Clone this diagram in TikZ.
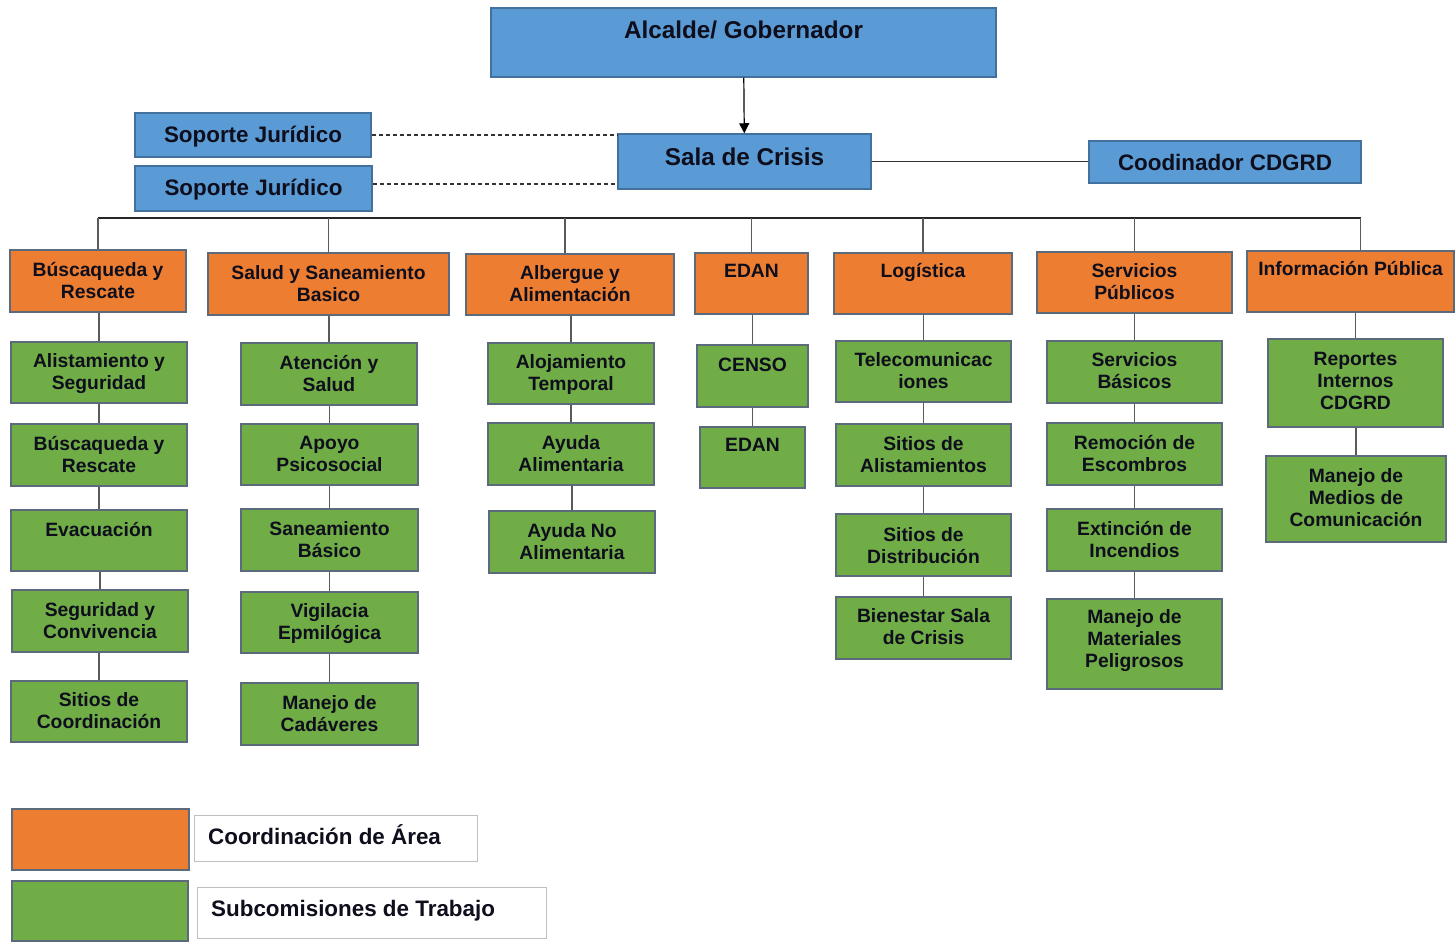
\documentclass[tikz,border=0pt]{standalone}
\usepackage{fontspec}
\setmainfont{Liberation Sans}
\usetikzlibrary{arrows.meta}
\definecolor{bluef}{HTML}{5B9BD5}
\definecolor{blued}{HTML}{41719C}
\definecolor{orangef}{HTML}{ED7D31}
\definecolor{greenf}{HTML}{70AD47}
\definecolor{boxd}{HTML}{5B6B7C}
\definecolor{ink}{HTML}{0E0E1C}
\definecolor{conn}{HTML}{5A5A5A}
\newcommand\ststrut{\rule[-0.205em]{0pt}{1.13em}}
\newcommand\bx[9]{%
  \node[#1,minimum width={#4-#2},minimum height={#5-#3}] (#6) at ({(#2+#4)/2},{(#3+#5)/2}) {};
  \node[txt,#8] (#6t) at ({(#2+#4)/2},#7) {#9};}
\newcommand\chain[2]{\draw[link] (#2.north |- #1.south) -- (#2.north);}
\tikzset{
  bluebox/.style={draw=blued, fill=bluef, line width=1.5pt, inner sep=0pt},
  orangebox/.style={draw=boxd, fill=orangef, line width=1.5pt, inner sep=0pt},
  greenbox/.style={draw=boxd, fill=greenf, line width=1.5pt, inner sep=0pt},
  legbox/.style={draw=black!25, fill=white, line width=1pt, inner sep=0pt},
  txt/.style={text=ink, align=center, inner sep=0pt,
    execute at begin node=\ststrut, execute at end node=\ststrut},
  big/.style={font=\fontsize{24.3}{28}\selectfont\bfseries},
  mid/.style={font=\fontsize{22.4}{26}\selectfont\bfseries},
  sm/.style={font=\fontsize{19.3}{22}\selectfont\bfseries},
  ml/.style={sm, yshift=-2pt},
  leg/.style={font=\fontsize{22.4}{26}\selectfont\bfseries},
  link/.style={draw=conn, line width=1.3pt},
  busline/.style={draw=black!85, line width=1.3pt},
  dashlink/.style={draw=black!80, line width=1.1pt, dash pattern=on 4pt off 3pt},
}
\begin{document}
\begin{tikzpicture}[x=1pt,y=-1pt]
\useasboundingbox[fill=white] (0,0) rectangle (1455,942);
% top level
\bx{bluebox}{491}{8}{996}{77}{alc}{30}{big}{Alcalde/ Gobernador}
\bx{bluebox}{618}{134}{871}{189}{sala}{157}{big}{Sala de Crisis}
\bx{bluebox}{135}{113}{371}{157}{sj1}{134.5}{mid}{Soporte Jurídico}
\bx{bluebox}{135}{166}{372}{211}{sj2}{187.5}{mid}{Soporte Jurídico}
\bx{bluebox}{1089}{141}{1361}{183}{coord}{162}{mid}{Coodinador CDGRD}
% area coordination
\bx{orangebox}{10}{250}{186}{312}{o1}{280.5}{ml}{Búscaqueda y\\Rescate}
\bx{orangebox}{208}{253}{449}{315}{o2}{283}{ml}{Salud y Saneamiento\\Basico}
\bx{orangebox}{466}{254}{674}{315}{o3}{283.5}{ml}{Albergue y\\Alimentación}
\bx{orangebox}{695}{253}{808}{314}{o4}{271}{sm}{EDAN}
\bx{orangebox}{834}{253}{1012}{314}{o5}{271}{sm}{Logística}
\bx{orangebox}{1037}{252}{1232}{313}{o6}{281}{ml}{Servicios\\Públicos}
\bx{orangebox}{1247}{251}{1454}{312}{o7}{269}{sm}{Información Pública}
% column 1
\bx{greenbox}{11}{342}{187}{403}{g11}{371.5}{ml}{Alistamiento y\\Seguridad}
\bx{greenbox}{11}{424}{187}{486}{g12}{454.7}{ml}{Búscaqueda y\\Rescate}
\bx{greenbox}{11}{510}{187}{571}{g13}{529.5}{sm}{Evacuación}
\bx{greenbox}{12}{590}{188}{652}{g14}{620}{ml}{Seguridad y\\Convivencia}
\bx{greenbox}{11}{681}{187}{742}{g15}{710.7}{ml}{Sitios de\\Coordinación}
% column 2
\bx{greenbox}{241}{343}{417}{405}{g21}{373}{ml}{Atención y\\Salud}
\bx{greenbox}{241}{424}{418}{485}{g22}{454}{ml}{Apoyo\\Psicosocial}
\bx{greenbox}{241}{509}{418}{571}{g23}{539}{ml}{Saneamiento\\Básico}
\bx{greenbox}{241}{592}{418}{653}{g24}{622}{ml}{Vigilacia\\Epmilógica}
\bx{greenbox}{241}{683}{418}{745}{g25}{713}{ml}{Manejo de\\Cadáveres}
% column 3
\bx{greenbox}{488}{343}{654}{404}{g31}{373}{ml}{Alojamiento\\Temporal}
\bx{greenbox}{488}{423}{654}{485}{g32}{453}{ml}{Ayuda\\Alimentaria}
\bx{greenbox}{489}{511}{655}{573}{g33}{541}{ml}{Ayuda No\\Alimentaria}
% column 4
\bx{greenbox}{697}{345}{808}{407}{g41}{364.5}{sm}{CENSO}
\bx{greenbox}{700}{427}{805}{488}{g42}{444.5}{sm}{EDAN}
% column 5
\bx{greenbox}{836}{341}{1011}{402}{g51}{370}{ml}{Telecomunicac\\iones}
\bx{greenbox}{836}{424}{1011}{486}{g52}{454}{ml}{Sitios de\\Alistamientos}
\bx{greenbox}{836}{514}{1011}{576}{g53}{545}{ml}{Sitios de\\Distribución}
\bx{greenbox}{836}{597}{1011}{659}{g54}{626.5}{ml}{Bienestar Sala\\de Crisis}
% column 6
\bx{greenbox}{1047}{341}{1222}{403}{g61}{370.5}{ml}{Servicios\\Básicos}
\bx{greenbox}{1047}{423}{1222}{485}{g62}{453}{ml}{Remoción de\\Escombros}
\bx{greenbox}{1047}{509}{1222}{571}{g63}{539}{ml}{Extinción de\\Incendios}
\bx{greenbox}{1047}{599}{1222}{689}{g64}{639}{ml}{Manejo de\\Materiales\\Peligrosos}
% column 7
\bx{greenbox}{1268}{339}{1443}{427}{g71}{381}{ml}{Reportes\\Internos\\CDGRD}
\bx{greenbox}{1266}{456}{1446}{542}{g72}{497}{ml}{Manejo de\\Medios de\\Comunicación}
% legend
\bx{orangebox}{12}{809}{189}{870}{lo}{840}{sm}{}
\bx{legbox}{194}{815}{477}{861}{lot}{838}{sm}{}
\node[txt,leg,anchor=west] (lott) at (208,836) {Coordinación de Área};
\bx{greenbox}{12}{881}{188}{941}{lg}{911}{sm}{}
\bx{legbox}{197}{887}{546}{938}{lgt}{912}{sm}{}
\node[txt,leg,anchor=west] (lgtt) at (211,908) {Subcomisiones de Trabajo};
% connectors at top
\draw[line width=1.2pt, black, -{Triangle[length=10pt,width=10pt]}] (alc) -- (sala);
\draw[dashlink] (sj1.east) -- (sj1.east -| sala.west);
\draw[dashlink] ([yshift=4.5pt]sj2.east) coordinate (sj2e) -- (sj2e -| sala.west);
\draw[link,draw=black!80] (sala.east) -- (sala.east -| coord.west);
% bus
\coordinate (busy) at (0,218);
\coordinate (o3top) at ([xshift=-5pt]o3.north);
\coordinate (o7top) at ([xshift=10pt]o7.north);
\draw[busline] (o1.north |- busy) -- (o7top |- busy);
\foreach \n in {o1,o2,o4,o5,o6} \draw[link] (\n.north) -- (\n.north |- busy);
\draw[link] (o3top) -- (o3top |- busy);
\draw[link] (o7top) -- (o7top |- busy);
% chains
\chain{o1}{g11}\chain{g11}{g12}\chain{g12}{g13}\chain{g13}{g14}\chain{g14}{g15}
\chain{o2}{g21}\chain{g21}{g22}\chain{g22}{g23}\chain{g23}{g24}\chain{g24}{g25}
\chain{o3}{g31}\chain{g31}{g32}\chain{g32}{g33}
\chain{o4}{g41}\chain{g41}{g42}
\chain{o5}{g51}\chain{g51}{g52}\chain{g52}{g53}\chain{g53}{g54}
\chain{o6}{g61}\chain{g61}{g62}\chain{g62}{g63}\chain{g63}{g64}
\chain{o7}{g71}\chain{g71}{g72}
\end{tikzpicture}
\end{document}
